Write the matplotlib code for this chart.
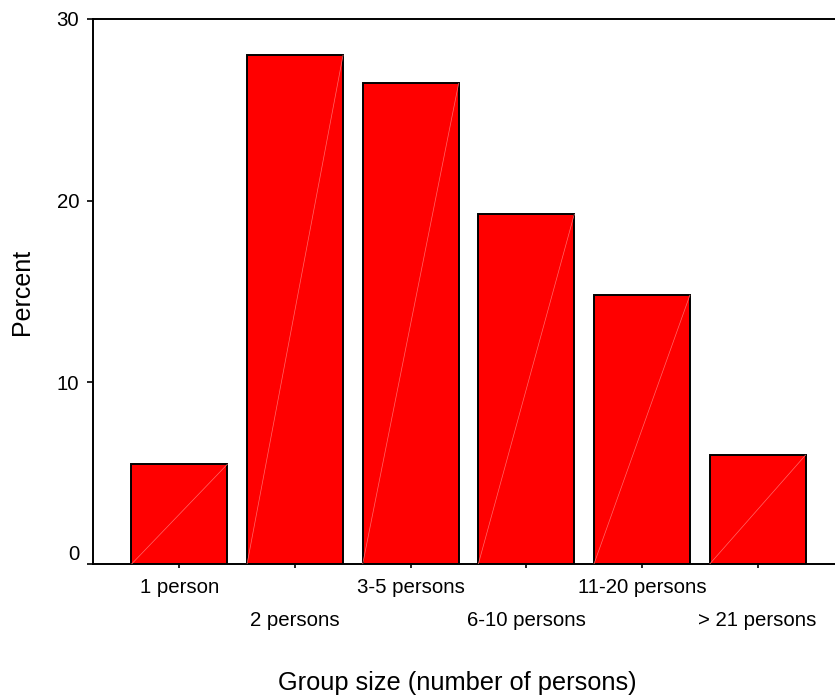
import matplotlib
matplotlib.use("Agg")
import matplotlib.pyplot as plt
import numpy as np

categories = ["1 person", "2 persons", "3-5 persons", "6-10 persons", "11-20 persons", "> 21 persons"]
percent = [5.5, 28.0, 26.45, 19.25, 14.8, 6.0]
yticks = [0, 10, 20, 30]

plt.rcParams['font.family'] = ['Liberation Sans', 'DejaVu Sans']

fig = plt.figure(figsize=(8.35, 7.0), dpi=100)
ax = fig.add_axes([0.111, 0.194, 0.889, 0.779])

x = np.arange(len(categories))
w = 0.83
ax.bar(x, percent, width=w, color='#ff0000', edgecolor='black', linewidth=1.4, zorder=2)
for xi, h in zip(x, percent):
    ax.plot([xi - w / 2, xi + w / 2], [0, h], color='#ff6a6a', lw=0.5, zorder=3)

ax.set_xlim(-0.75, 5.67)
ax.set_ylim(0, 30)
ax.set_yticks(yticks)
ax.set_yticklabels([str(t) for t in yticks])
ax.set_xticks(x)
ax.set_xticklabels(categories)

for s in ['left', 'top', 'bottom']:
    ax.spines[s].set_linewidth(1.4)
ax.spines['right'].set_visible(False)

ax.tick_params(axis='both', direction='out', width=1.2, labelsize=14.7, colors='black')
ax.tick_params(axis='y', length=4.3, pad=5.5)
ax.tick_params(axis='x', length=3.0)

for i, tick in enumerate(ax.xaxis.get_major_ticks()):
    tick.set_pad(7 if i % 2 == 0 else 7 + 23.8)

ax.get_yticklabels()[0].set_va('bottom')

fig.text(457 / 835, 1 - 683 / 700, "Group size (number of persons)", fontsize=18.3, ha='center', va='center')
fig.text(22 / 835, 1 - 292 / 700, "Percent", fontsize=18, ha='center', va='center', rotation=90)

fig.savefig("out.png", dpi=100)
